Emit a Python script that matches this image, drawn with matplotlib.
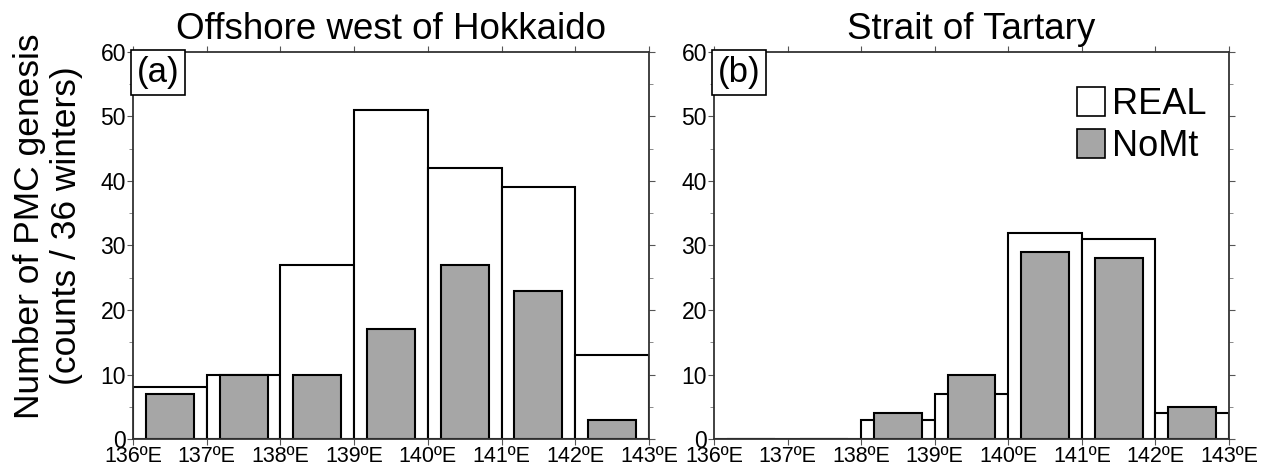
import matplotlib
matplotlib.use("Agg")
import matplotlib.pyplot as plt
import numpy as np
from matplotlib.patches import Patch

plt.rcParams['font.family'] = ['Liberation Sans', 'DejaVu Sans']

lon_edges = [136, 137, 138, 139, 140, 141, 142]
xtick_vals = [136, 137, 138, 139, 140, 141, 142, 143]
xtick_labels = [f"{v}ºE" for v in xtick_vals]

real_a = [8, 10, 27, 51, 42, 39, 13]
nomt_a = [7, 10, 10, 17, 27, 23, 3]
real_b = [0, 0, 3, 7, 32, 31, 4]
nomt_b = [0, 0, 4, 10, 29, 28, 5]

titles = ["Offshore west of Hokkaido", "Strait of Tartary"]
panel_labels = ["(a)", "(b)"]
ylabel = "Number of PMC genesis\n(counts / 36 winters)"

gray = "#a6a6a6"

fig = plt.figure(figsize=(12.72, 4.73), dpi=100)
W, H = 1272, 473
ax_a = fig.add_axes([133 / W, 1 - 439 / H, 516 / W, 387 / H])
ax_b = fig.add_axes([714 / W, 1 - 439 / H, 515 / W, 387 / H])

for ax, real, nomt, title, plab in [(ax_a, real_a, nomt_a, titles[0], panel_labels[0]),
                                    (ax_b, real_b, nomt_b, titles[1], panel_labels[1])]:
    centers = np.array(lon_edges) + 0.5
    ax.bar(centers, real, width=1.0, color="white", edgecolor="black", linewidth=1.5, zorder=2)
    ax.bar(centers, nomt, width=0.65, color=gray, edgecolor="black", linewidth=1.5, zorder=3)
    ax.set_xlim(136, 143)
    ax.set_ylim(0, 60)
    ax.set_xticks(xtick_vals)
    ax.set_xticklabels(xtick_labels, fontsize=15.5)
    ax.set_yticks(range(0, 61, 10))
    ax.set_yticks(range(5, 60, 10), minor=True)
    ax.tick_params(axis='both', which='major', direction='out', length=4, width=0.8,
                   color='#555555', pad=1, top=True, right=True)
    ax.tick_params(axis='y', which='major', labelsize=16.5)
    ax.tick_params(axis='y', which='minor', direction='out', length=3, width=0.6,
                   color='#777777', right=True, left=True)
    for sp in ax.spines.values():
        sp.set_linewidth(1.3)
        sp.set_color('#333333')
        sp.set_zorder(5)
    ax.set_title(title, fontsize=26.5, pad=9)
    ax.text(0.007, 0.99, plab, transform=ax.transAxes, fontsize=25, ha='left', va='top',
            bbox=dict(boxstyle='square,pad=0.17', facecolor='white', edgecolor='black', linewidth=1.2),
            zorder=6)

fig.text(48 / W, 1 - 226 / H, ylabel, rotation=90, fontsize=25.5, ha='center', va='center',
         multialignment='center', linespacing=1.18)

handles = [Patch(facecolor='white', edgecolor='black', linewidth=1.2, label='REAL'),
           Patch(facecolor=gray, edgecolor='black', linewidth=1.2, label='NoMt')]
ax_b.legend(handles=handles, loc='upper right', bbox_to_anchor=(1.005, 0.975), frameon=False,
            fontsize=26, handlelength=0.75, handleheight=0.85, handletextpad=0.2,
            labelspacing=0.2, borderpad=0.2)

fig.savefig("out.png", dpi=100)
